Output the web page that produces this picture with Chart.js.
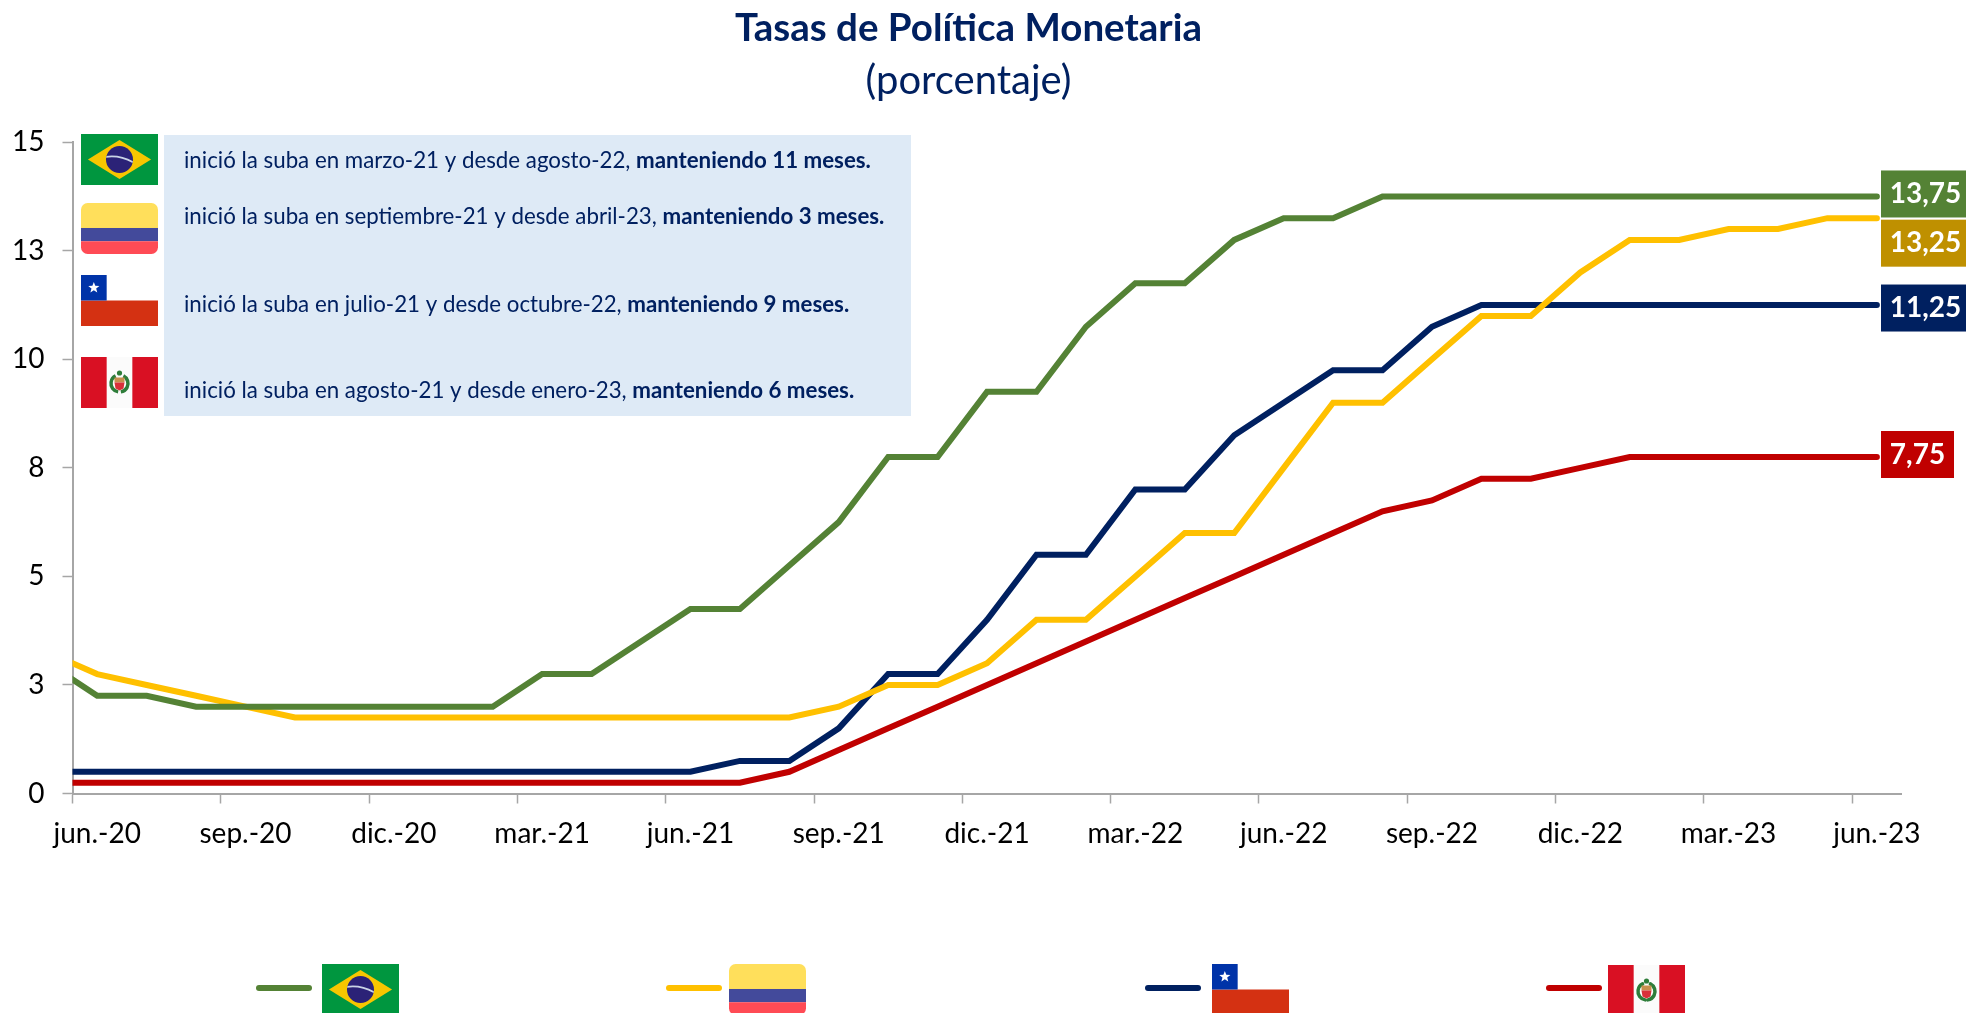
<!DOCTYPE html>
<html lang="es">
<head>
<meta charset="utf-8">
<title>Tasas de Política Monetaria</title>
<script src="https://cdn.jsdelivr.net/npm/chart.js@4"></script>
<style>
html,body{margin:0;padding:0;background:#fff;overflow:hidden}
canvas{display:block}
</style>
</head>
<body>
<canvas id="c" width="1966" height="1013"></canvas>
<script>
// First entry (may.-20) sits left of the visible axis: the lines enter the plot already moving.
const months = ['may.-20','jun.-20','jul.-20','ago.-20','sep.-20','oct.-20','nov.-20','dic.-20','ene.-21','feb.-21','mar.-21','abr.-21','may.-21','jun.-21','jul.-21','ago.-21','sep.-21','oct.-21','nov.-21','dic.-21','ene.-22','feb.-22','mar.-22','abr.-22','may.-22','jun.-22','jul.-22','ago.-22','sep.-22','oct.-22','nov.-22','dic.-22','ene.-23','feb.-23','mar.-23','abr.-23','may.-23','jun.-23'];
const brasil   = [3,2.25,2.25,2,2,2,2,2,2,2,2.75,2.75,3.5,4.25,4.25,5.25,6.25,7.75,7.75,9.25,9.25,10.75,11.75,11.75,12.75,13.25,13.25,13.75,13.75,13.75,13.75,13.75,13.75,13.75,13.75,13.75,13.75,13.75];
const colombia = [3.25,2.75,2.5,2.25,2,1.75,1.75,1.75,1.75,1.75,1.75,1.75,1.75,1.75,1.75,1.75,2,2.5,2.5,3,4,4,5,6,6,7.5,9,9,10,11,11,12,12.75,12.75,13,13,13.25,13.25];
const chile    = [0.5,0.5,0.5,0.5,0.5,0.5,0.5,0.5,0.5,0.5,0.5,0.5,0.5,0.5,0.75,0.75,1.5,2.75,2.75,4,5.5,5.5,7,7,8.25,9,9.75,9.75,10.75,11.25,11.25,11.25,11.25,11.25,11.25,11.25,11.25,11.25];
const peru     = [0.25,0.25,0.25,0.25,0.25,0.25,0.25,0.25,0.25,0.25,0.25,0.25,0.25,0.25,0.25,0.5,1,1.5,2,2.5,3,3.5,4,4.5,5,5.5,6,6.5,6.75,7.25,7.25,7.5,7.75,7.75,7.75,7.75,7.75,7.75];

const seriesNames  = ['Brasil','Colombia','Chile','Perú'];
const seriesColors = ['#548235','#FFC000','#002060','#C00000'];
const boxColors    = ['#548235','#BF9000','#002060','#C00000'];

const titleText    = 'Tasas de Política Monetaria';
const subtitleText = '(porcentaje)';
const calloutPlain = [
  'inició la suba en marzo-21 y desde agosto-22, ',
  'inició la suba en septiembre-21 y desde abril-23, ',
  'inició la suba en julio-21 y desde octubre-22, ',
  'inició la suba en agosto-21 y desde enero-23, '
];
const calloutBold = ['manteniendo 11 meses.','manteniendo 3 meses.','manteniendo 9 meses.','manteniendo 6 meses.'];

const FONT = 'Lato, "Open Sans", sans-serif';
const AXIS = '#A6A6A6';

function roundedRectPath(ctx,x,y,w,h,r){
  ctx.beginPath();
  ctx.roundRect(x,y,w,h,r);
}
function drawFlag(ctx,kind,x,y,w,h){
  ctx.save();
  if(kind==='Brasil'){
    ctx.fillStyle='#00963F';ctx.fillRect(x,y,w,h);
    ctx.fillStyle='#F7C600';ctx.beginPath();
    ctx.moveTo(x+w*0.09,y+h/2);ctx.lineTo(x+w/2,y+h*0.12);ctx.lineTo(x+w*0.91,y+h/2);ctx.lineTo(x+w/2,y+h*0.88);ctx.closePath();ctx.fill();
    const cx=x+w/2,cy=y+h/2,r=h*0.265;
    ctx.fillStyle='#2B2277';ctx.beginPath();ctx.arc(cx,cy,r,0,Math.PI*2);ctx.fill();
    ctx.save();ctx.clip();
    ctx.strokeStyle='#C9D3E6';ctx.lineWidth=1.8;ctx.beginPath();ctx.moveTo(cx-r,cy-r*0.2);ctx.quadraticCurveTo(cx,cy-r*0.35,cx+r,cy+r*0.2);ctx.stroke();
    ctx.restore();
  }else if(kind==='Colombia'){
    roundedRectPath(ctx,x,y,w,h,h*0.13);ctx.clip();
    ctx.fillStyle='#FFDF5B';ctx.fillRect(x,y,w,h*0.49);
    ctx.fillStyle='#434A9B';ctx.fillRect(x,y+h*0.49,w,h*0.26);
    ctx.fillStyle='#FF4B55';ctx.fillRect(x,y+h*0.75,w,h*0.25);
  }else if(kind==='Chile'){
    ctx.fillStyle='#FFFFFF';ctx.fillRect(x,y,w,h/2);
    ctx.fillStyle='#D43112';ctx.fillRect(x,y+h/2,w,h/2);
    ctx.fillStyle='#0033A8';ctx.fillRect(x,y,w/3,h/2);
    const cx=x+w/6,cy=y+h/4,R=h*0.115;
    ctx.fillStyle='#FFFFFF';ctx.beginPath();
    for(let i=0;i<10;i++){
      const a=-Math.PI/2+i*Math.PI/5,rr=i%2?R*0.42:R;
      ctx.lineTo(cx+rr*Math.cos(a),cy+rr*Math.sin(a));
    }
    ctx.closePath();ctx.fill();
  }else{
    ctx.fillStyle='#D91023';ctx.fillRect(x,y,w,h);
    ctx.fillStyle='#FBFBFB';ctx.fillRect(x+w/3,y,w/3,h);
    const cx=x+w/2,cy=y+h/2+1;
    // coat of arms: laurel wreath, crest, shield
    ctx.strokeStyle='#2E7D3A';ctx.lineWidth=3.5;
    ctx.beginPath();ctx.arc(cx,cy,8.5,Math.PI*0.55,Math.PI*1.35);ctx.stroke();
    ctx.beginPath();ctx.arc(cx,cy,8.5,-Math.PI*0.35,Math.PI*0.45);ctx.stroke();
    ctx.fillStyle='#2E7D3A';ctx.beginPath();ctx.arc(cx,cy-10.5,2.6,0,Math.PI*2);ctx.fill();
    ctx.fillStyle='#C98F4E';ctx.fillRect(cx-5,cy-6,10,5);
    ctx.fillStyle='#D8303A';ctx.beginPath();ctx.moveTo(cx-5,cy-1);ctx.lineTo(cx+5,cy-1);ctx.lineTo(cx+4,cy+5);ctx.lineTo(cx,cy+7);ctx.lineTo(cx-4,cy+5);ctx.closePath();ctx.fill();
  }
  ctx.restore();
}

const decorations = {
  id:'decorations',
  beforeDatasetsDraw(chart){
    const ctx=chart.ctx;
    // information panel
    ctx.save();
    ctx.fillStyle='#DEEAF6';
    ctx.fillRect(164,135,747,281);
    const rowY=[161,217,305,391];
    ctx.fillStyle='#002060';
    ctx.textBaseline='middle';ctx.textAlign='left';
    calloutPlain.forEach((t,i)=>{
      ctx.font='22.3px '+FONT;
      ctx.fillText(t,184,rowY[i]);
      const w=ctx.measureText(t).width;
      ctx.font='bold 22.3px '+FONT;
      ctx.fillText(calloutBold[i],184+w,rowY[i]);
    });
    ctx.restore();
    const panelFlagY=[134,203,275,357];
    seriesNames.forEach((n,i)=>drawFlag(ctx,n,81,panelFlagY[i],77,51));
    // legend row
    const legendLine=[256,666,1145,1546];
    const legendFlag=[322,729,1212,1608];
    ctx.save();
    chart.data.datasets.forEach((d,i)=>{
      ctx.strokeStyle=d.borderColor;ctx.lineWidth=6;ctx.lineCap='round';
      ctx.beginPath();ctx.moveTo(legendLine[i]+3,988);ctx.lineTo(legendLine[i]+53,988);ctx.stroke();
      drawFlag(ctx,seriesNames[i],legendFlag[i],i===3?965:964,77,51);
    });
    ctx.restore();
  },
  afterDatasetsDraw(chart){
    // value boxes at the end of each line
    const ctx=chart.ctx;
    const boxOffset=[-2.5,25,3,-2.5];
    ctx.save();
    ctx.textBaseline='middle';
    chart.data.datasets.forEach((d,i)=>{
      const meta=chart.getDatasetMeta(i);
      const pt=meta.data[meta.data.length-1];
      const label=d.data[d.data.length-1].toFixed(2).replace('.',',');
      const bx=1881,bw=i===3?73:85,bh=47;
      const by=pt.y+boxOffset[i]-bh/2;
      ctx.fillStyle=boxColors[i];
      ctx.fillRect(bx,by,bw,bh);
      ctx.fillStyle='#FFFFFF';
      ctx.font='bold 28px '+FONT;
      ctx.textAlign='center';
      ctx.fillText(label,bx+bw/2+(i===3?0:2),by+bh/2);
    });
    ctx.restore();
  }
};

new Chart(document.getElementById('c'),{
  type:'line',
  plugins:[decorations],
  data:{
    labels:months,
    datasets:[brasil,colombia,chile,peru].map((vals,i)=>({
      label:seriesNames[i],
      data:vals,
      borderColor:seriesColors[i],
      backgroundColor:seriesColors[i],
      borderWidth:6,
      borderCapStyle:'round',
      borderJoinStyle:'miter',
      pointRadius:0,
      tension:0,
      fill:false
    }))
  },
  options:{
    responsive:false,
    animation:false,
    layout:{padding:{left:0,right:29,top:0,bottom:0}},
    plugins:{
      legend:{display:false},
      tooltip:{enabled:false},
      title:{display:true,text:titleText,color:'#002060',font:{family:FONT,size:38.5,weight:'bold',lineHeight:1.2},padding:{top:5,bottom:6}},
      subtitle:{display:true,text:subtitleText,color:'#002060',font:{family:FONT,size:40,weight:'normal',lineHeight:1.2},padding:{top:0,bottom:37}}
    },
    scales:{
      x:{
        type:'category',
        min:1,
        offset:true,
        border:{color:AXIS,width:2},
        grid:{
          offset:true,
          drawOnChartArea:false,
          drawTicks:true,
          tickLength:10,
          tickWidth:1.5,
          tickColor:ctx=>ctx.index%3===0?AXIS:'rgba(0,0,0,0)'
        },
        ticks:{
          autoSkip:false,maxRotation:0,minRotation:0,padding:14,color:'#000000',
          font:{family:FONT,size:28},
          callback(v,i){return i%3===0?this.getLabelForValue(v):'';}
        },
        afterFit(s){s.height=219.5;s.paddingLeft=0;s.paddingRight=0;}
      },
      y:{
        min:0,max:15,
        border:{color:AXIS,width:2},
        grid:{drawOnChartArea:false,drawTicks:true,tickLength:10,tickWidth:1.5,tickColor:AXIS},
        ticks:{stepSize:2.5,padding:18,color:'#000000',font:{family:FONT,size:28},callback:v=>String(Math.round(v))},
        afterFit(s){s.width=72.5;}
      },
      yRight:{
        position:'right',
        display:true,
        min:0,max:15,
        border:{display:false},
        grid:{display:false,drawTicks:false},
        ticks:{display:false},
        afterFit(s){s.width=35.4;}
      }
    }
  }
});
</script>
</body>
</html>
